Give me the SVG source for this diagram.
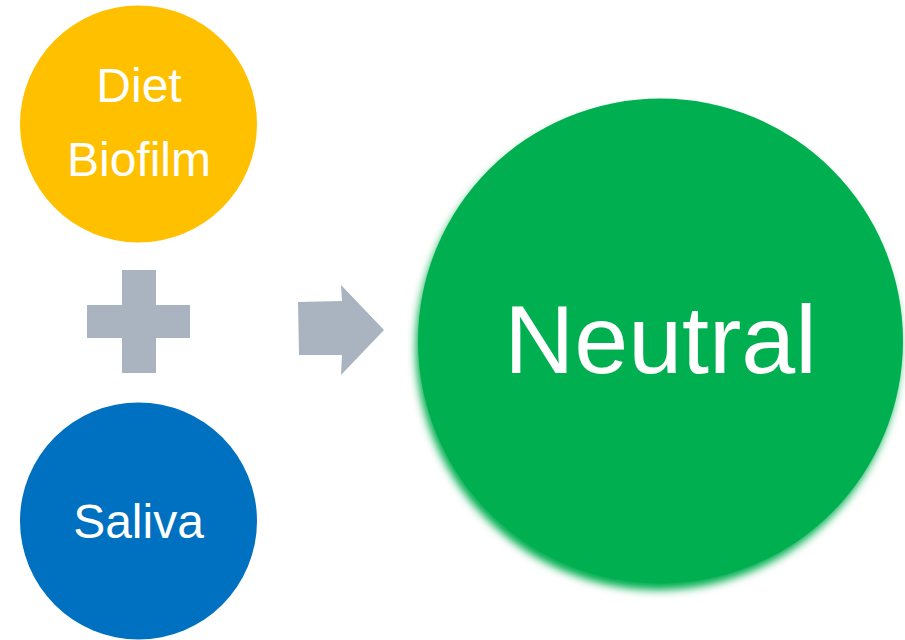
<svg xmlns="http://www.w3.org/2000/svg" width="905" height="640" viewBox="0 0 905 640">
  <style>
    .lbl { font-family: "Liberation Sans", Arial, sans-serif; fill: #ffffff; text-anchor: middle; }
    .op { fill: #A9B4C0; }
  </style>
  <defs>
    <!-- soft glow that spills toward the lower left of the result disc -->
    <filter id="soft" x="-10%" y="-10%" width="120%" height="120%">
      <feGaussianBlur stdDeviation="4"/>
    </filter>
  </defs>
  <rect width="905" height="640" fill="#ffffff"/>

  <g id="diet-biofilm">
    <circle cx="138.5" cy="124" r="118.5" fill="#FFC000"/>
    <text class="lbl" x="139" y="102" font-size="48">Diet</text>
    <text class="lbl" x="139" y="176" font-size="48">Biofilm</text>
  </g>

  <g id="saliva">
    <circle cx="138.5" cy="521" r="118.5" fill="#0070C0"/>
    <text class="lbl" x="138.5" y="538" font-size="48">Saliva</text>
  </g>

  <g id="neutral">
    <circle cx="658" cy="348" r="242" fill="#00AF50" filter="url(#soft)"/>
    <circle cx="660.5" cy="341" r="242.5" fill="#00AF50"/>
    <text class="lbl" x="660.5" y="373" font-size="97">Neutral</text>
  </g>

  <g id="connectors">
    <!-- plus sign between the two inputs -->
    <path class="op" d="M122 270 H156 V305 H190 V338 H156 V373 H122 V338 H87 V305 H122 Z"/>
    <!-- block arrow toward the result -->
    <polygon class="op" points="298,302 342,301 341,285 384,330 341,375 342,355 299,355"/>
  </g>
</svg>
